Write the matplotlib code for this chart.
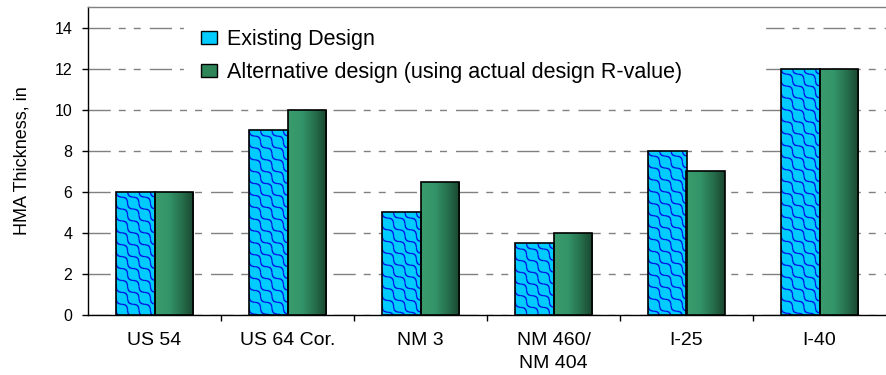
import numpy as np
import matplotlib
matplotlib.use("Agg")
import matplotlib.pyplot as plt
from matplotlib.colors import LinearSegmentedColormap
from matplotlib.patches import Patch

plt.rcParams['font.family'] = ['Liberation Sans', 'DejaVu Sans']
plt.rcParams['lines.scale_dashes'] = False

categories = ["US 54", "US 64 Cor.", "NM 3", "NM 460/\nNM 404", "I-25", "I-40"]
existing = [6, 9, 5, 3.5, 8, 12]
alternative = [6, 10, 6.5, 4, 7, 12]
series_names = ["Existing Design", "Alternative design (using actual design R-value)"]
yticks = [0, 2, 4, 6, 8, 10, 12, 14]

fig = plt.figure(figsize=(8.86, 3.75), dpi=100)
ax = fig.add_axes([88/886, 1-315/375, 798/886, 308/375])

x = np.arange(len(categories))
w = 0.29
ymax = 15
px_per_x = 798 / len(categories)
px_per_y = 308 / ymax

b1 = ax.bar(x - w/2, existing, w, facecolor='none', edgecolor='black', linewidth=1.2,
            zorder=4)
b2 = ax.bar(x + w/2, alternative, w, facecolor='none', edgecolor='black', linewidth=1.2,
            zorder=4)


def scale_texture(wpx, hpx, P=12.0, L=24.0, A=3.0, lw=1.4, ss=3):
    yy, xx = np.mgrid[0:hpx*ss, 0:wpx*ss] / ss
    d = yy - xx
    s = xx + yy
    k0 = np.floor(d / P)
    dist = np.full(d.shape, 1e9)
    for dk in (-1, 0, 1, 2):
        k = k0 + dk
        curve = k * P + A * np.sin(2*np.pi*s/L + k*np.pi)
        dist = np.minimum(dist, np.abs(d - curve) / np.sqrt(2))
    line = (dist < lw / 2)
    img = np.empty(line.shape + (3,))
    img[:] = np.array([0, 204, 255]) / 255
    img[line] = np.array([0, 0, 225]) / 255
    return img


for p in b1.patches:
    x0 = p.get_x(); x1 = x0 + p.get_width(); h = p.get_height()
    wpx = int(round(p.get_width() * px_per_x)) + 2
    hpx = int(round(h * px_per_y)) + 2
    im = ax.imshow(scale_texture(wpx, hpx), extent=[x0, x1, 0, h], aspect='auto',
                   interpolation='antialiased', origin='upper', zorder=3)
    im.set_clip_path(p)

cmap = LinearSegmentedColormap.from_list('g', [(0, '#3A9C6C'), (0.35, '#34956A'),
                                               (0.7, '#266F4C'), (1.0, '#1A4530')])
grad = np.linspace(0, 1, 64).reshape(1, -1)
for p in b2.patches:
    x0 = p.get_x(); x1 = x0 + p.get_width(); h = p.get_height()
    im = ax.imshow(grad, extent=[x0, x1, 0, h], aspect='auto', cmap=cmap,
                   interpolation='bilinear', zorder=3)
    im.set_clip_path(p)

ax.set_xlim(-0.5, len(categories) - 0.5)
ax.set_ylim(0, ymax)
ax.set_aspect('auto')

ax.set_yticks(yticks)
ax.set_yticklabels([str(v) for v in yticks], fontsize=11.5)
ax.tick_params(axis='y', direction='out', length=4.3, width=1, pad=7, color='black')

ax.set_xticks(x)
ax.set_xticklabels(categories, fontsize=14, linespacing=1.4)
ax.tick_params(axis='x', which='major', length=0, pad=12.5)
ax.set_xticks(np.arange(0.5, len(categories) - 0.5, 1), minor=True)
ax.tick_params(axis='x', which='minor', direction='out', length=4.3, width=1, color='black')

ax.yaxis.grid(True, color='#808080', linewidth=1.0,
              linestyle=(0, (16, 5.8, 5, 5.8, 5, 6.5)))
ax.set_axisbelow(True)

ax.spines['top'].set_color('#808080')
ax.spines['right'].set_visible(False)
ax.spines['left'].set_color('black')
ax.spines['bottom'].set_color('black')
for s in ax.spines.values():
    s.set_linewidth(1.0)

ax.set_ylabel("HMA Thickness, in", fontsize=13, labelpad=17)

handles = [Patch(facecolor='#00CCFF', edgecolor='black', linewidth=1.0),
           Patch(facecolor='#2E8558', edgecolor='black', linewidth=1.0)]
leg = ax.legend(handles, series_names, loc='upper left', mode='expand',
                bbox_to_anchor=((184-88)/798, (315-12)/308, (765-184)/798, 0.0),
                fontsize=15.5, frameon=True, facecolor='white', edgecolor='white',
                framealpha=1, fancybox=False, borderpad=0.8, handlelength=0.75,
                handleheight=0.6, handletextpad=0.45, labelspacing=0.55,
                borderaxespad=0)
leg.set_zorder(5)

fig.savefig('out.png', dpi=100)
